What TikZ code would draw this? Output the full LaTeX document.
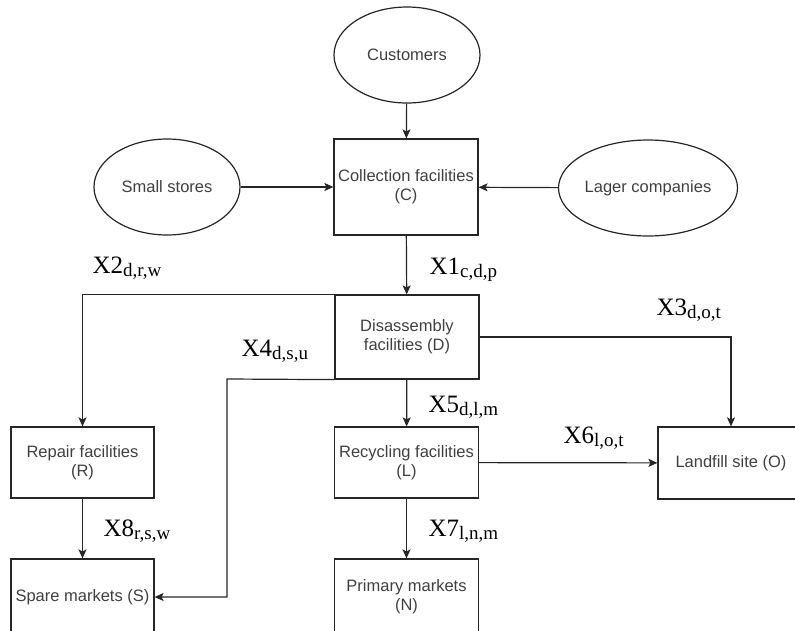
\documentclass[tikz,border=0pt]{standalone}
\usepackage{fontspec}
\setmainfont{Liberation Sans}
\newfontfamily\flowfont{Liberation Serif}
\usepackage{tikz}
\usetikzlibrary{arrows.meta,shapes,positioning,calc}
\newcommand{\flowlbl}[2]{{\flowfont\fontsize{25}{30}\selectfont #1\raisebox{-3pt}{\fontsize{19}{22}\selectfont #2}}}

\begin{document}
\begin{tikzpicture}[x=1pt,y=-1pt,line width=1.2pt,
box/.style={rectangle,draw=black!85,text=black!75,align=center,minimum width=144pt,inner sep=0pt,font=\fontsize{16.5}{19}\selectfont},
ell/.style={ellipse,draw=black!85,text=black!75,minimum width=146pt,minimum height=96pt,inner sep=0pt,font=\fontsize{16.5}{19}\selectfont},
flow/.style={draw=black!85,-{Stealth[length=9pt,width=8pt,inset=2pt]}},
lbl/.style={anchor=base west,inner sep=0pt}]
\useasboundingbox (0,0) rectangle (795,630);
\node (cust) at (407,55)[ell] {Customers};
\node (small) at (167,187)[ell] {Small stores};
\node (lager) at (648,188)[ell] {Lager companies};
\node (coll) at (406,187)[box,minimum height=96pt] {Collection facilities\\(C)};
\node (dis) at (407,337)[box,minimum height=84pt] {Disassembly\\facilities (D)};
\node (rep) at (82.5,462.5)[box,minimum width=143pt,minimum height=71pt] {Repair facilities\\(R)};
\node (rec) at (406.5,462.5)[box,minimum height=71pt] {Recycling facilities\\(L)};
\node (land) at (731,463)[box,minimum width=146pt,minimum height=72pt] {Landfill site (O)};
\node (spare) at (82.5,597)[box,minimum width=143pt,minimum height=76pt] {Spare markets (S)};
\node (prim) at (406.5,597)[box,minimum height=76pt] {Primary markets\\(N)};
\coordinate (bend4) at (227,379);
% flows between the stages
\draw[flow] (cust) -- (coll);
\draw[flow] (small) -- (coll);
\draw[flow] (lager) -- (coll);
\draw[flow] (coll) -- (dis);
\draw[flow] (dis.north west) -| (rep.north);
\draw[flow] (dis.east) -| (land.north);
\draw[flow] (dis.south west) -- (bend4) |- (spare.east);
\draw[flow] (dis) -- (rec);
\draw[flow] (rec) -- (land);
\draw[flow] (rec) -- (prim);
\draw[flow] (rep) -- (spare);
% labels
\node (x1) at (429,274)[lbl] {\flowlbl{X1}{c,d,p}};
\node (x2) at (92,273)[lbl] {\flowlbl{X2}{d,r,w}};
\node (x3) at (656,315)[lbl] {\flowlbl{X3}{d,o,t}};
\node (x4) at (241,356)[lbl] {\flowlbl{X4}{d,s,u}};
\node (x5) at (428,412)[lbl] {\flowlbl{X5}{d,l,m}};
\node (x6) at (563,443)[lbl] {\flowlbl{X6}{l,o,t}};
\node (x7) at (428,536)[lbl] {\flowlbl{X7}{l,n,m}};
\node (x8) at (103,536)[lbl] {\flowlbl{X8}{r,s,w}};
\end{tikzpicture}
\end{document}
